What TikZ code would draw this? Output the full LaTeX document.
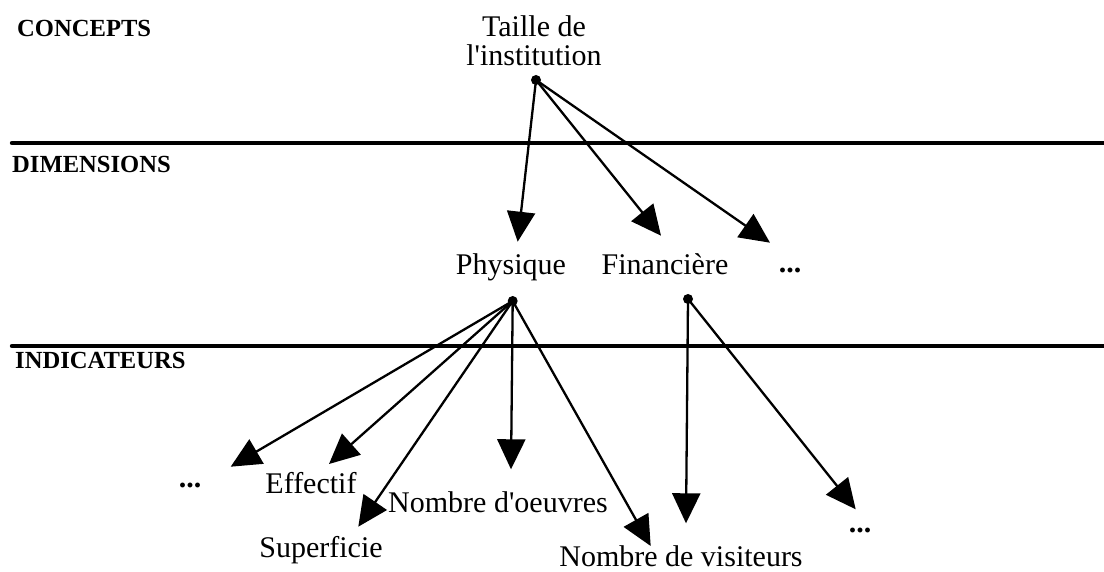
\documentclass[tikz,border=0pt]{standalone}
\usepackage{fontspec}
\setmainfont{Liberation Serif}
\usetikzlibrary{arrows.meta}
\begin{document}
\begin{tikzpicture}[x=1pt,y=-1pt,
  lbl/.style={font=\fontsize{30}{29}\selectfont, inner sep=0pt, anchor=base},
  head/.style={font=\bfseries\fontsize{24.6}{25}\selectfont, inner sep=0pt, anchor=base west},
  sepline/.style={line width=4.4pt, line cap=round},
  arr/.style={line width=2.3pt, -{Triangle[length=30pt,width=28pt]}},
  dot/.style={circle, fill=black, inner sep=0pt, minimum size=10pt}]
\useasboundingbox (0,0) rectangle (1104,572);

% separators and level headings
\coordinate (l1a) at (12,143);  \coordinate (l1b) at (1106,143);
\coordinate (l2a) at (12,346);  \coordinate (l2b) at (1106,346);
\draw[sepline] (l1a) -- (l1b);
\draw[sepline] (l2a) -- (l2b);
\node[head] (hc) at (17,37) {CONCEPTS};
\node[head] (hd) at (12,173) {DIMENSIONS};
\node[head] (hi) at (15,368) {INDICATEURS};

% concept
\node[lbl, align=center] (concept) at (534,66) {Taille de\\l\textquotesingle institution};
\node[dot] (t) at (536,80) {};

% dimensions
\node[lbl] (phys) at (511,275) {Physique};
\node[lbl] (fin) at (665,275) {Financière};
\node[lbl] (dd) at (790,273) {\textbf{...}};
\coordinate (tp) at (517.7,241.7);
\coordinate (tf) at (661,235.7);
\coordinate (te) at (770,242.7);
\draw[arr] (t.center) -- (tp);
\draw[arr] (t.center) -- (tf);
\draw[arr] (t.center) -- (te);

\node[dot] (ph) at (512.7,301) {};
\node[dot] (fi) at (688,299) {};

% indicators
\node[lbl] (il) at (190,487) {\textbf{...}};
\node[lbl] (eff) at (311,493) {Effectif};
\node[lbl] (oeu) at (498,512) {Nombre d\textquotesingle oeuvres};
\node[lbl] (sup) at (321,557) {Superficie};
\node[lbl] (vis) at (681,566) {Nombre de visiteurs};
\node[lbl] (ir) at (860,532) {\textbf{...}};

\coordinate (a1) at (230.7,466.7);
\coordinate (a2) at (329,464);
\coordinate (a3) at (358.3,526.7);
\coordinate (a4) at (511,469.3);
\coordinate (a5) at (650.7,546);
\coordinate (b1) at (686,523.3);
\coordinate (b2) at (855.7,509.3);
\draw[arr] (ph.center) -- (a1);
\draw[arr] (ph.center) -- (a2);
\draw[arr] (ph.center) -- (a3);
\draw[arr] (ph.center) -- (a4);
\draw[arr] (ph.center) -- (a5);
\draw[arr] (fi.center) -- (b1);
\draw[arr] (fi.center) -- (b2);
\end{tikzpicture}
\end{document}
